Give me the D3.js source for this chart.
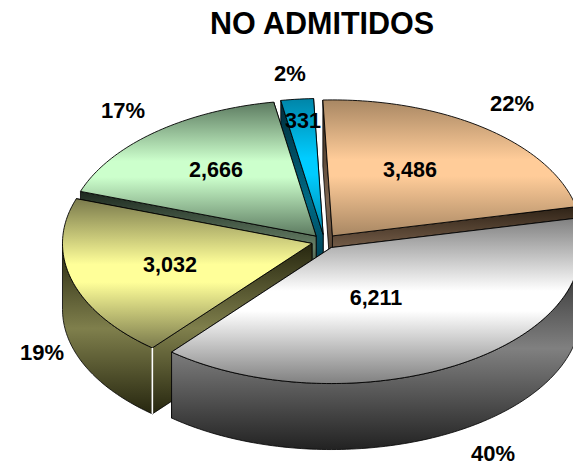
<!DOCTYPE html>
<html>
<head>
<meta charset="utf-8">
<script src="https://cdnjs.cloudflare.com/ajax/libs/d3/7.8.5/d3.min.js"></script>
<style>
html,body{margin:0;padding:0;background:#fff;overflow:hidden}
svg{display:block}
text{font-family:"Liberation Sans",Arial,sans-serif;font-weight:bold;fill:#000;text-anchor:middle;dominant-baseline:central}
</style>
</head>
<body>
<svg id="chart" width="573" height="466"></svg>
<script>
const title = "NO ADMITIDOS";
const categories = ["A","B","C","D","E"];
const values = [3486, 6211, 3032, 2666, 331];
const valueLabels = ["3,486","6,211","3,032","2,666","331"];
const percentLabels = ["22%","40%","19%","17%","2%"];

const baseColors = ["#ffcc99","#ffffff","#ffff99","#ccffcc","#00ccff"];
const edgeColors = ["#a88763","#808080","#7a7a4c","#5c7a60","#0085a8"];
const wallMid = ["#806650","#808080","#7f7f4c","#667f66","#006a85"];
const wallDark = ["#2e2216","#222222","#26260f","#1c281e","#002a38"];

const valueAnchors = [[410,170],[376,298],[170,265],[216,170],[303,121]];
const percentAnchors = [[512,103],[493,453],[42,352],[123,110],[290,73]];

const W=573,H=466,cx=324.5,cy=241.5,rx=249.5,ry=136,depth=66,explode=0.052;
const startDeg=-2.2;
const paintOrder=[4,0,3,2,1];

const svg=d3.select("#chart");
const defs=svg.append("defs");
function grad(id,a,b,lo,hi){
  const g=defs.append("linearGradient").attr("id",id).attr("x1",0).attr("y1",0).attr("x2",0).attr("y2",1);
  g.append("stop").attr("offset","0%").attr("stop-color",a);
  g.append("stop").attr("offset",lo).attr("stop-color",b);
  g.append("stop").attr("offset",hi).attr("stop-color",b);
  g.append("stop").attr("offset","100%").attr("stop-color",a);
}
categories.forEach((c,i)=>{
  grad("top"+i,edgeColors[i],baseColors[i],"44%","56%");
  grad("wall"+i,wallDark[i],wallMid[i],"50%","50%");
});

const arcs=d3.pie().sort(null).value(d=>d)
  .startAngle(startDeg*Math.PI/180)
  .endAngle(startDeg*Math.PI/180+2*Math.PI)(values);

const xS=d3.scaleLinear().domain([-1,1]).range([cx-rx,cx+rx]);
const yS=d3.scaleLinear().domain([-1,1]).range([cy-ry,cy+ry]);
const line=d3.line().x(d=>xS(d[0])).y(d=>yS(d[1])+(d[2]||0));
const STROKE="#000";

function arcPts(a0,a1,ox,oy,z){
  const n=Math.max(2,Math.ceil(Math.abs(a1-a0)/0.02));
  return d3.range(n+1).map(k=>{
    const t=a0+(a1-a0)*k/n;
    return [ox+Math.sin(t),oy-Math.cos(t),z];
  });
}
const g=svg.append("g");
paintOrder.forEach(i=>{
  const a=arcs[i];
  const mid=(a.startAngle+a.endAngle)/2;
  const ox=explode*Math.sin(mid), oy=-explode*Math.cos(mid);
  const apex=[ox,oy];
  const tip=t=>[ox+Math.sin(t),oy-Math.cos(t)];
  const s=g.append("g").attr("class","slice");
  [a.endAngle,a.startAngle].forEach(t=>{
    const p=tip(t);
    s.append("path")
      .attr("d",line([[apex[0],apex[1],0],[p[0],p[1],0],[p[0],p[1],depth],[apex[0],apex[1],depth]])+"Z")
      .attr("fill",`url(#wall${i})`).attr("stroke",STROKE).attr("stroke-width",0.8);
  });
  const lo=Math.max(a.startAngle,Math.PI/2), hi=Math.min(a.endAngle,3*Math.PI/2);
  if(hi>lo){
    const top=arcPts(lo,hi,ox,oy,0), bot=arcPts(hi,lo,ox,oy,depth);
    s.append("path").attr("d",line(top.concat(bot))+"Z")
      .attr("fill",`url(#wall${i})`).attr("stroke",STROKE).attr("stroke-width",0.8);
  }
  const pts=[[apex[0],apex[1],0]].concat(arcPts(a.startAngle,a.endAngle,ox,oy,0));
  s.append("path").attr("d",line(pts)+"Z")
    .attr("fill",`url(#top${i})`).attr("stroke",STROKE).attr("stroke-width",0.9);
  if(i===2){
    const p=tip(a.startAngle);
    s.append("path").attr("d",line([[p[0],p[1],0],[p[0],p[1],depth]]))
      .attr("stroke","#fff").attr("stroke-width",1.6).attr("fill","none");
  }
});

svg.append("text").attr("x",322).attr("y",23).attr("font-size",30.5).text(title);
svg.append("g").selectAll("text").data(valueLabels).join("text")
  .attr("x",(d,i)=>valueAnchors[i][0]).attr("y",(d,i)=>valueAnchors[i][1])
  .attr("font-size",21.5).text(d=>d);
svg.append("g").selectAll("text").data(percentLabels).join("text")
  .attr("x",(d,i)=>percentAnchors[i][0]).attr("y",(d,i)=>percentAnchors[i][1])
  .attr("font-size",22).text(d=>d);
</script>
</body>
</html>
